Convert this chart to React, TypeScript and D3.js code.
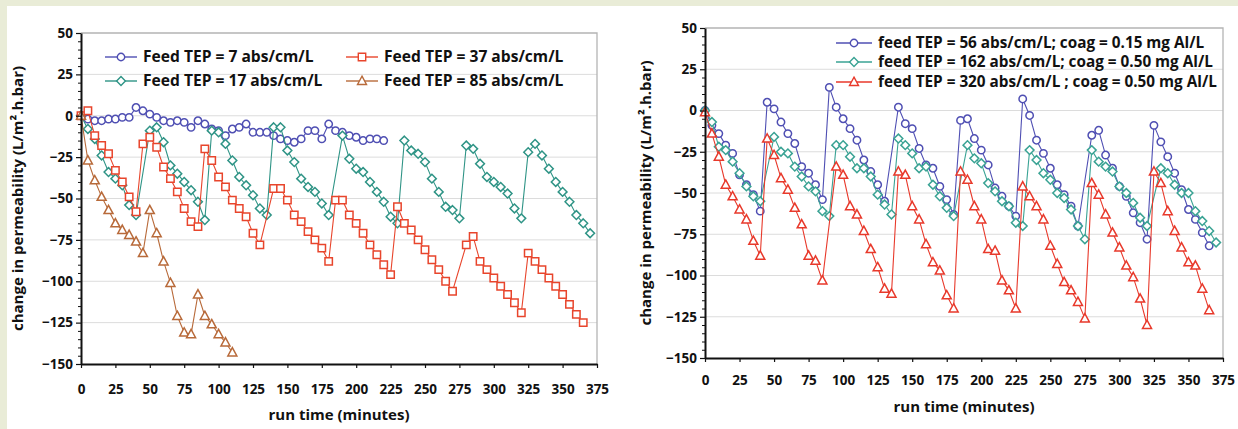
import React, { useRef, useEffect } from "react"
import * as d3 from "d3"

const W = 1238
const H = 429
const FONT = "'Open Sans', Lato, sans-serif"

// ---- left panel: feed TEP only ----
const tep7Time = [0, 5, 10, 15, 20, 25, 30, 35, 40, 45, 50, 55, 60, 65, 70, 75, 80, 85, 90, 95, 100, 105, 110, 115, 120, 125, 130, 135, 140, 145, 150, 155, 160, 165, 170, 175, 180, 185, 190, 195, 200, 205, 210, 215, 220]
const tep7Perm = [0, -2, -3, -3, -2, -2, -1, -1, 5, 3, 1, -1, -3, -4, -3, -4, -7, -3, -5, -8, -9, -12, -8, -7, -5, -10, -10, -10, -12, -14, -15, -16, -14, -9, -9, -14, -5, -9, -10, -12, -13, -15, -14, -14, -15]

const tep17Time = [0, 5, 10, 15, 20, 25, 30, 35, 40, 50, 55, 60, 65, 70, 75, 80, 85, 90, 95, 100, 105, 110, 115, 120, 125, 130, 135, 140, 145, 150, 155, 160, 165, 170, 175, 180, 190, 195, 200, 205, 210, 215, 220, 225, 230, 235, 240, 245, 250, 255, 260, 265, 270, 275, 280, 285, 290, 295, 300, 305, 310, 315, 320, 325, 330, 335, 340, 345, 350, 355, 360, 365, 370]
const tep17Perm = [0, -8, -14, -24, -34, -38, -42, -54, -60, -9, -7, -16, -30, -35, -40, -45, -52, -63, -9, -10, -17, -27, -37, -42, -48, -56, -60, -7, -7, -21, -28, -38, -43, -46, -53, -60, -12, -26, -32, -34, -40, -46, -52, -61, -65, -15, -21, -23, -28, -38, -46, -55, -57, -62, -18, -20, -29, -37, -40, -43, -47, -56, -62, -22, -17, -24, -32, -40, -46, -52, -60, -65, -71]

const tep37Time = [0, 5, 10, 15, 20, 25, 30, 35, 40, 45, 50, 55, 60, 65, 70, 75, 80, 85, 90, 95, 100, 105, 110, 115, 120, 125, 130, 140, 145, 150, 155, 160, 165, 170, 175, 180, 185, 190, 195, 200, 205, 210, 215, 220, 225, 230, 235, 240, 245, 250, 255, 260, 265, 270, 280, 285, 290, 295, 300, 305, 310, 315, 320, 325, 330, 335, 340, 345, 350, 355, 360, 365]
const tep37Perm = [0, 3, -12, -18, -23, -33, -40, -49, -58, -17, -13, -19, -31, -38, -46, -56, -64, -67, -20, -27, -37, -43, -51, -56, -61, -71, -78, -44, -44, -51, -60, -64, -70, -75, -80, -88, -51, -51, -60, -65, -71, -78, -84, -90, -96, -55, -65, -69, -75, -81, -87, -93, -100, -106, -78, -73, -88, -93, -98, -103, -108, -113, -119, -83, -88, -93, -98, -103, -108, -114, -120, -125]

const tep85Time = [0, 5, 10, 15, 20, 25, 30, 35, 40, 45, 50, 55, 60, 65, 70, 75, 80, 85, 90, 95, 100, 105, 110]
const tep85Perm = [0, -27, -39, -49, -57, -65, -69, -72, -76, -83, -57, -71, -88, -101, -121, -131, -132, -108, -121, -126, -132, -137, -143]

// ---- right panel: feed TEP + coagulant ----
const coag56Time = [0, 5, 10, 15, 20, 25, 30, 35, 40, 45, 50, 55, 60, 65, 70, 75, 80, 85, 90, 95, 100, 105, 110, 115, 120, 125, 130, 140, 145, 150, 155, 160, 165, 170, 175, 180, 185, 190, 195, 200, 205, 210, 215, 220, 225, 230, 235, 240, 245, 250, 255, 260, 265, 270, 280, 285, 290, 295, 300, 305, 310, 315, 320, 325, 330, 335, 340, 345, 350, 355, 360, 365]
const coag56Perm = [0, -9, -14, -21, -26, -39, -45, -51, -61, 5, 1, -7, -14, -20, -34, -38, -45, -54, 14, 2, -5, -11, -18, -30, -37, -45, -55, 2, -8, -11, -23, -33, -35, -46, -54, -63, -6, -5, -17, -24, -33, -47, -52, -58, -64, 7, -3, -18, -26, -35, -45, -51, -58, -70, -15, -12, -27, -35, -46, -52, -62, -68, -78, -9, -19, -28, -38, -48, -60, -66, -74, -82]

const coag162Time = [0, 5, 10, 15, 20, 25, 30, 35, 40, 50, 55, 60, 65, 70, 75, 80, 85, 90, 95, 100, 105, 110, 115, 120, 125, 130, 135, 140, 145, 150, 155, 160, 165, 170, 175, 180, 190, 195, 200, 205, 210, 215, 220, 225, 230, 235, 240, 245, 250, 255, 260, 265, 270, 275, 280, 285, 290, 295, 300, 305, 310, 315, 320, 330, 335, 340, 345, 350, 355, 360, 365, 370]
const coag162Perm = [0, -7, -22, -24, -31, -38, -46, -52, -55, -16, -25, -26, -34, -40, -46, -49, -61, -64, -21, -21, -28, -35, -35, -40, -51, -57, -63, -17, -21, -26, -35, -34, -45, -52, -59, -64, -21, -29, -32, -44, -49, -55, -58, -68, -70, -24, -30, -38, -42, -50, -53, -60, -70, -78, -24, -31, -34, -37, -46, -50, -56, -65, -70, -35, -38, -45, -50, -50, -61, -67, -73, -80]

const coag320Time = [0, 5, 10, 15, 20, 25, 30, 35, 40, 45, 50, 55, 60, 65, 70, 75, 80, 85, 95, 100, 105, 110, 115, 120, 125, 130, 135, 140, 145, 150, 155, 160, 165, 170, 175, 180, 185, 190, 195, 200, 205, 210, 215, 220, 225, 230, 235, 240, 245, 250, 255, 260, 265, 270, 275, 280, 285, 290, 295, 300, 305, 310, 315, 320, 325, 330, 335, 340, 345, 350, 355, 360, 365]
const coag320Perm = [-1, -14, -28, -45, -52, -60, -66, -79, -88, -17, -27, -41, -48, -59, -69, -88, -91, -103, -34, -39, -58, -63, -73, -84, -95, -108, -111, -37, -39, -58, -66, -81, -92, -97, -112, -120, -37, -42, -58, -66, -84, -85, -103, -109, -120, -46, -52, -58, -66, -82, -93, -104, -109, -116, -126, -44, -51, -63, -74, -83, -94, -101, -114, -130, -37, -44, -61, -73, -83, -92, -94, -108, -121]

const yTicks = [-150, -125, -100, -75, -50, -25, 0, 25, 50]
const yMinor = [-145, -140, -135, -130, -120, -115, -110, -105, -95, -90, -85, -80, -70, -65, -60, -55, -45, -40, -35, -30, -20, -15, -10, -5, 5, 10, 15, 20, 30, 35, 40, 45]
const xTicks = [0, 25, 50, 75, 100, 125, 150, 175, 200, 225, 250, 275, 300, 325, 350, 375]

const markers: Record<string, string> = {
  circle: "M3.7,0A3.7,3.7,0,1,1,-3.7,0A3.7,3.7,0,1,1,3.7,0Z",
  diamond: "M0,-4.4L4.4,0L0,4.4L-4.4,0Z",
  square: "M-3.7,-3.7h7.4v7.4h-7.4Z",
  triangle: "M0,-4.8L4.5,3.5L-4.5,3.5Z",
}

function drawPanel(svg: any, p: any) {
  const x = d3.scaleLinear().domain([0, 375]).range([p.x0, p.x1])
  const y = d3.scaleLinear().domain([-150, 50]).range([p.y1, p.y0])
  const g = svg.append("g")

  // light grid
  g.selectAll("line.grid")
    .data(yTicks.filter(d => d > -150 && d < 50))
    .enter().append("line")
    .attr("x1", p.x0).attr("x2", p.x1)
    .attr("y1", (d: number) => y(d)).attr("y2", (d: number) => y(d))
    .attr("stroke", "#dcdcdc").attr("stroke-width", 1)

  // frame top + right
  g.append("path")
    .attr("d", `M${p.x0},${y(50)}H${x(375)}V${y(-150)}`)
    .attr("fill", "none").attr("stroke", "#b4b4b4").attr("stroke-width", 1.3)

  p.series.forEach((s: any) => {
    const pts = s.t.map((t: number, i: number) => [t, s.v[i]])
    g.append("path").datum(pts)
      .attr("d", d3.line().x((d: any) => x(d[0])).y((d: any) => y(d[1])))
      .attr("fill", "none").attr("stroke", s.color).attr("stroke-width", 1.1)
    g.selectAll(null).data(pts).enter().append("path")
      .attr("transform", (d: any) => `translate(${x(d[0])},${y(d[1])})`)
      .attr("d", markers[s.marker])
      .attr("fill", "#fff").attr("stroke", s.color).attr("stroke-width", 1.5)
  })

  // axes
  g.append("g").attr("transform", `translate(${p.x0},0)`)
    .call(d3.axisLeft(y).tickValues(yMinor).tickSize(3).tickFormat(() => ""))
    .call((a: any) => a.select(".domain").remove())
  const ya = g.append("g").attr("transform", `translate(${p.x0},0)`)
    .call(d3.axisLeft(y).tickValues(yTicks).tickSize(5).tickSizeOuter(0).tickPadding(3))
  const xa = g.append("g").attr("transform", `translate(0,${p.y1})`)
    .call(d3.axisBottom(x).tickValues(xTicks).tickSize(4).tickSizeOuter(0).tickPadding(p.xPad))
  ;[ya, xa].forEach(a => {
    a.select(".domain").attr("stroke", "#111").attr("stroke-width", 2)
    a.selectAll(".tick line").attr("stroke", "#111").attr("stroke-width", 1.2)
    a.selectAll(".tick text").attr("font-family", FONT).attr("font-weight", 700)
      .attr("font-size", 13.5).attr("fill", "#111")
  })
  g.selectAll(".tick line").attr("stroke", "#111")

  g.append("text")
    .attr("x", (p.x0 + p.x1) / 2).attr("y", p.xTitleY)
    .attr("text-anchor", "middle")
    .attr("font-family", FONT).attr("font-weight", 700).attr("font-size", 15).attr("fill", "#111")
    .text("run time (minutes)")
  g.append("text")
    .attr("transform", `translate(${p.yTitleX},${(y(50) + y(-150)) / 2}) rotate(-90)`)
    .attr("text-anchor", "middle")
    .attr("font-family", FONT).attr("font-weight", 700).attr("font-size", 15).attr("fill", "#111")
    .text("change in permeability (L/m².h.bar)")

  // legend
  p.series.forEach((s: any, i: number) => {
    const pos = p.legendPos[i]
    const lg = g.append("g").attr("transform", `translate(${pos[0]},${pos[1]})`)
    lg.append("line").attr("x1", 0).attr("x2", p.legendLen)
      .attr("stroke", s.color).attr("stroke-width", 1.4)
    lg.append("path").attr("transform", `translate(${p.legendLen / 2},0)`)
      .attr("d", markers[s.marker]).attr("fill", "#fff").attr("stroke", s.color).attr("stroke-width", 1.4)
    lg.append("text").attr("x", p.legendLen + 6).attr("dy", "0.35em")
      .attr("font-family", FONT).attr("font-weight", 700).attr("font-size", p.legendFont).attr("fill", "#111")
      .text(s.label)
  })
}

export default function App() {
  const svgRef = useRef<SVGSVGElement>(null)

  useEffect(() => {
    const svg = d3.select(svgRef.current)
    svg.selectAll("*").remove()

    svg.append("rect").attr("width", W).attr("height", H).attr("fill", "#e9ecd7")
    svg.append("rect").attr("x", 7).attr("y", 6).attr("width", W - 7).attr("height", H - 6).attr("fill", "#fff")

    drawPanel(svg, {
      x0: 81, x1: 597, y0: 33, y1: 364, xPad: 16, xTitleY: 420, yTitleX: 23, legendLen: 32, legendFont: 15.6,
      legendPos: [[105, 57], [105, 81], [346, 57], [346, 81]],
      series: [
        { label: "Feed TEP = 7 abs/cm/L", t: tep7Time, v: tep7Perm, color: "#4f4fb3", marker: "circle" },
        { label: "Feed TEP = 17 abs/cm/L", t: tep17Time, v: tep17Perm, color: "#2f9486", marker: "diamond" },
        { label: "Feed TEP = 37 abs/cm/L", t: tep37Time, v: tep37Perm, color: "#e8452c", marker: "square" },
        { label: "Feed TEP = 85 abs/cm/L", t: tep85Time, v: tep85Perm, color: "#b86a3a", marker: "triangle" },
      ],
    })

    drawPanel(svg, {
      x0: 705, x1: 1223, y0: 28, y1: 358, xPad: 13, xTitleY: 412, yTitleX: 651, legendLen: 36, legendFont: 15.3,
      legendPos: [[836, 43], [836, 62], [836, 82]],
      series: [
        { label: "feed TEP = 56 abs/cm/L; coag = 0.15 mg Al/L", t: coag56Time, v: coag56Perm, color: "#4f4fb3", marker: "circle" },
        { label: "feed TEP = 162 abs/cm/L; coag = 0.50 mg Al/L", t: coag162Time, v: coag162Perm, color: "#3aa394", marker: "diamond" },
        { label: "feed TEP = 320 abs/cm/L ; coag = 0.50 mg Al/L", t: coag320Time, v: coag320Perm, color: "#e8392b", marker: "triangle" },
      ],
    })
  }, [])

  return (
    <svg ref={svgRef} width={W} height={H} style={{ position: "absolute", left: 0, top: 0 }} />
  )
}
